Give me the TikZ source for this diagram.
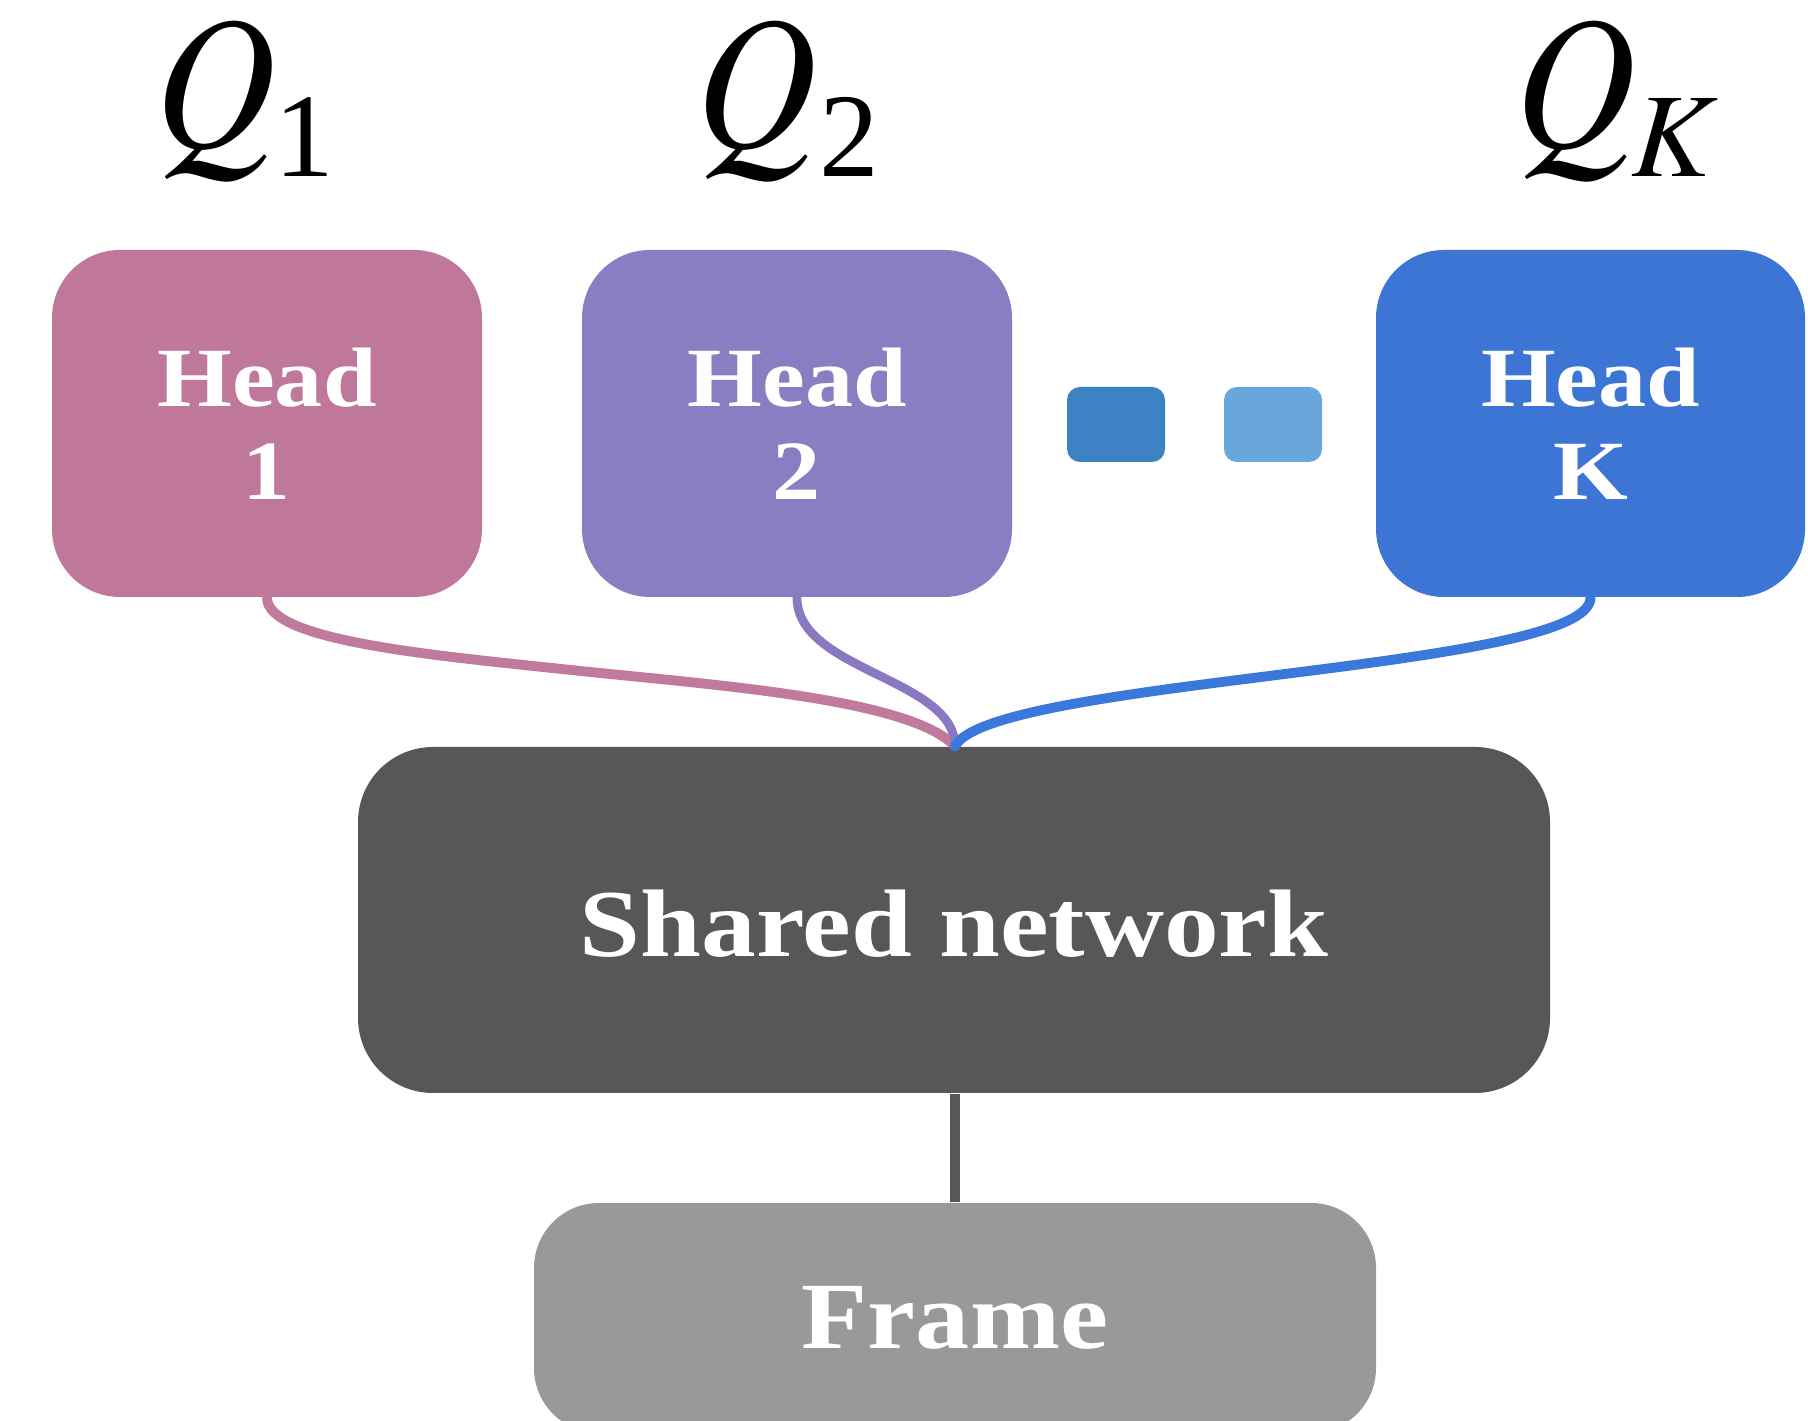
\documentclass[tikz,border=0pt]{standalone}
\usepackage{mathptmx}
\usepackage[no-math]{fontspec}
\setmainfont{Liberation Serif}
\newfontfamily\boxfont[FakeStretch=1.14]{Liberation Serif}
\usetikzlibrary{calc}
\definecolor{hpink}{RGB}{191,120,153}
\definecolor{hpurple}{RGB}{138,126,194}
\definecolor{hblue}{RGB}{61,117,212}
\definecolor{dblue}{RGB}{61,130,194}
\definecolor{lblue}{RGB}{105,166,219}
\definecolor{cpink}{RGB}{192,122,156}
\definecolor{cpurple}{RGB}{138,120,192}
\definecolor{cblue}{RGB}{58,120,220}
\definecolor{sgray}{RGB}{87,87,87}
\definecolor{fgray}{RGB}{153,153,153}
\tikzset{
  headbox/.style={fill=#1, draw=none, rounded corners=0.68cm, minimum width=4.3cm, minimum height=3.47cm,
    text=white, align=center, font=\boxfont\bfseries\fontsize{24}{26.5}\selectfont, inner sep=0pt},
  dotbox/.style={fill=#1, draw=none, rounded corners=0.13cm, minimum width=0.98cm, minimum height=0.75cm, inner sep=0pt},
  qlab/.style={anchor=base west, inner sep=0pt},
  conn/.style={line width=#1, line cap=round},
}
\newcommand{\qmain}{\scalebox{0.88}[1]{\fontsize{54}{54}\selectfont$Q$}}
\newcommand{\qsub}[1]{\raisebox{-8.2pt}{\fontsize{34}{34}\selectfont #1}}
\begin{document}
\begin{tikzpicture}
\useasboundingbox (0,0) rectangle (18.08,14.21);
\fill[white] (0,0) rectangle (18.08,14.21);

\node[qlab] (q1) at (1.55,12.73) {\qmain\kern-0.5pt\qsub{1}};
\node[qlab] (q2) at (6.96,12.73) {\qmain\kern0.5pt\qsub{2}};
\node[qlab] (qK) at (15.15,12.73) {\qmain\kern-1.5pt\qsub{$K$}};

\node[headbox=hpink] (head1) at (2.67,9.975) {Head\\1};
\node[headbox=hpurple] (head2) at (7.97,9.975) {Head\\2};
\node[headbox=hblue, minimum width=4.29cm] (headK) at (15.905,9.975) {Head\\K};

\node[dotbox=dblue] (dot1) at (11.16,9.965) {};
\node[dotbox=lblue] (dot2) at (12.73,9.965) {};

\node[fill=sgray, draw=none, rounded corners=0.75cm, minimum width=11.92cm, minimum height=3.46cm,
  text=white, font=\boxfont\bfseries\fontsize{27.3}{30}\selectfont, inner sep=0pt] (shared) at (9.54,5.01) {\raisebox{-10.5pt}[0pt][0pt]{Shared network}};

\begin{scope}
\clip (0,0) rectangle (18.08,14.21);
\node[fill=fgray, draw=none, rounded corners=0.65cm, minimum width=8.42cm, minimum height=2.3cm,
  text=white, font=\boxfont\bfseries\fontsize{27}{30}\selectfont, inner sep=0pt] (frame) at (9.55,1.03) {Frame};
\end{scope}

\coordinate (join) at ($(shared.north)+(0.01,0)$);
\coordinate (pmid) at (5.71,7.51);
\draw[conn=2.8pt, cpink] (head1.south) .. controls ($(head1.south)+(0,-0.43)$) and ($(pmid)+(-1.41,0.15)$) .. (pmid)
  .. controls ($(pmid)+(1.41,-0.15)$) and ($(join)+(-0.45,0.48)$) .. (join);
\draw[conn=2.5pt, cpurple] (head2.south) .. controls ($(head2.south)+(0,-0.73)$) and ($(join)+(0,0.68)$) .. (join);
\draw[conn=2.8pt, cblue] (headK.south) .. controls ($(headK.south)+(0,-0.73)$) and ($(join)+(0.35,0.68)$) .. (join);

\draw[line width=2.8pt, sgray] (shared.south -| join) -- (frame.north -| join);
\end{tikzpicture}
\end{document}
